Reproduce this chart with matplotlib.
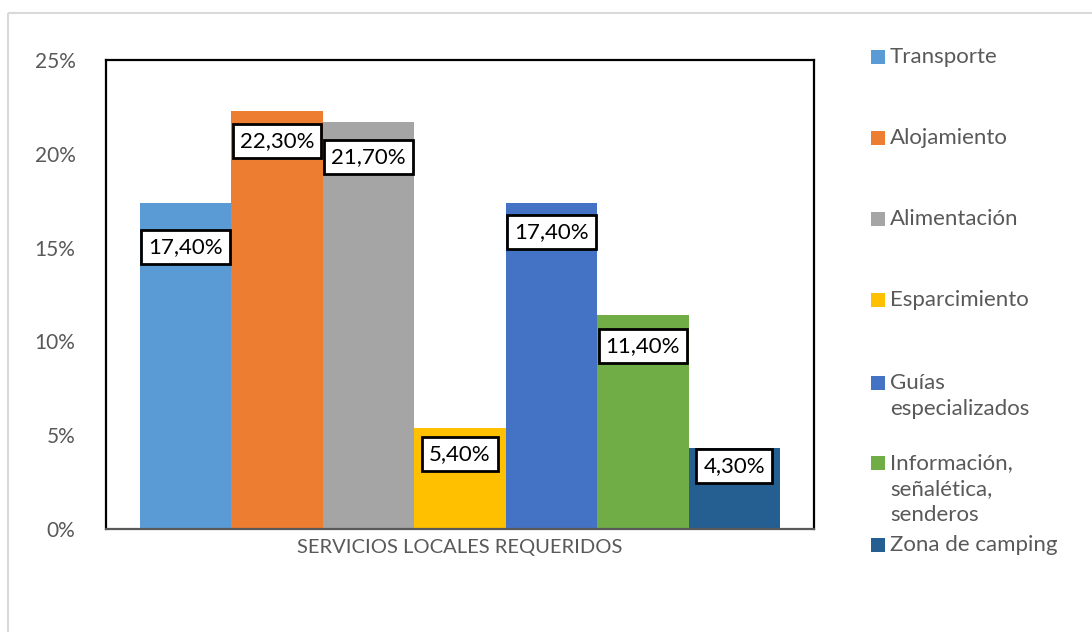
import matplotlib.pyplot as plt
from matplotlib.patches import Rectangle

servicios = ['Transporte', 'Alojamiento', 'Alimentación', 'Esparcimiento',
             'Guías\nespecializados', 'Información,\nseñalética,\nsenderos',
             'Zona de camping']
porcentajes = [17.4, 22.3, 21.7, 5.4, 17.4, 11.4, 4.3]
colores = ['#5B9BD5', '#ED7D31', '#A5A5A5', '#FFC000', '#4472C4', '#70AD47', '#255E91']
# how far each value label sits below the top of its bar (points)
bajada = [32, 22, 25, 19, 21, 22, 13]

W, H = 1092, 632
plt.rcParams['font.family'] = ['Lato', 'DejaVu Sans']
gris = '#595959'

fig = plt.figure(figsize=(W / 100, H / 100), dpi=100)
fig.patch.set_facecolor('white')

# light chart-area border
fig.patches.append(Rectangle((8 / W, 1 - 13 / H), 1.2, -1.2, transform=fig.transFigure,
                             fill=False, edgecolor='#D9D9D9', linewidth=1.5, clip_on=False))

ax = fig.add_axes([106 / W, 1 - 529 / H, (814 - 106) / W, (529 - 60) / H])
x = list(range(len(porcentajes)))
ax.bar(x, porcentajes, width=1.0, color=colores, zorder=2)
ax.set_xlim(-0.5 - 34 / 91.5, len(x) - 0.5 + 34 / 91.5)
ax.set_ylim(0, 25)
ax.set_yticks([0, 5, 10, 15, 20, 25])
ax.set_yticklabels([f'{t}%' for t in [0, 5, 10, 15, 20, 25]], color=gris, fontsize=15)
ax.tick_params(axis='y', length=0, pad=22)
ax.set_xticks([])
for s in ax.spines.values():
    s.set_linewidth(1.6)
    s.set_color('black')
ax.spines['bottom'].set_color(gris)

for xi, v, d in zip(x, porcentajes, bajada):
    ax.annotate(f'{v:.2f}'.replace('.', ',') + '%', (xi, v), xytext=(0, -d),
                textcoords='offset points', ha='center', va='center', fontsize=16,
                color='black', zorder=4,
                bbox=dict(boxstyle='square,pad=0.32', facecolor='white',
                          edgecolor='black', linewidth=2.0))

fig.text(460 / W, 1 - 548 / H, 'SERVICIOS LOCALES REQUERIDOS', ha='center', va='center',
         color=gris, fontsize=14.5)

# legend drawn by hand so multi-line names hang from the marker
leyenda_y = [57, 138, 219, 300, 383, 463, 545]
for nombre, c, yy in zip(servicios, colores, leyenda_y):
    fig.patches.append(Rectangle((871 / W, 1 - (yy + 7) / H), 14 / W, 14 / H,
                                 transform=fig.transFigure, facecolor=c, edgecolor='none'))
    fig.text(890 / W, 1 - (yy - 10) / H, nombre, ha='left', va='top', color=gris,
             fontsize=16, linespacing=1.38)

fig.savefig('out.png', dpi=100)
